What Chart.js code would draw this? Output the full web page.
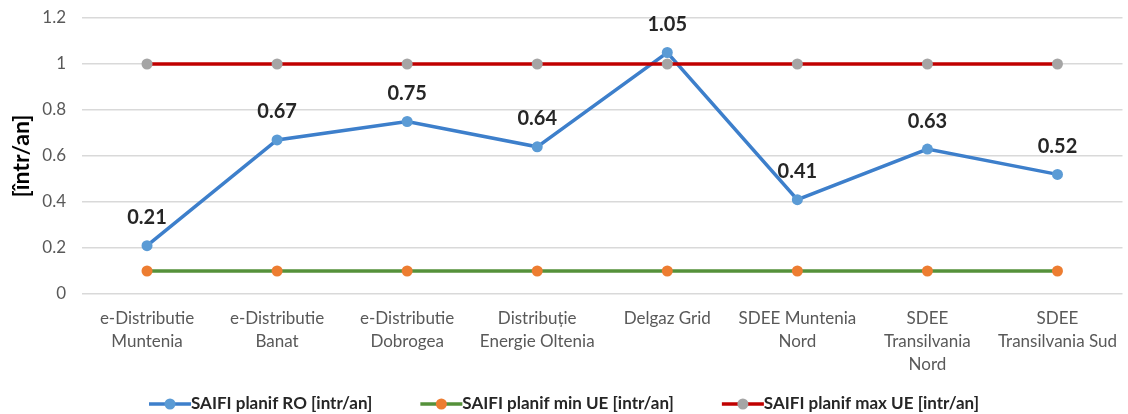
<!DOCTYPE html>
<html>
<head>
<meta charset="utf-8">
<script src="https://cdn.jsdelivr.net/npm/chart.js@4"></script>
<style>
  html, body { margin: 0; padding: 0; background: #fff; }
  #wrap { width: 1128px; height: 414px; }
</style>
</head>
<body>
<div id="wrap"><canvas id="myChart" width="1128" height="414"></canvas></div>
<script>
// data
const categories = [
  ['e-Distributie', 'Muntenia'],
  ['e-Distributie', 'Banat'],
  ['e-Distributie', 'Dobrogea'],
  ['Distribuție', 'Energie Oltenia'],
  'Delgaz Grid',
  ['SDEE Muntenia', 'Nord'],
  ['SDEE', 'Transilvania', 'Nord'],
  ['SDEE', 'Transilvania Sud']
];
const saifiRO = [0.21, 0.67, 0.75, 0.64, 1.05, 0.41, 0.63, 0.52];
const saifiMinUE = [0.1, 0.1, 0.1, 0.1, 0.1, 0.1, 0.1, 0.1];
const saifiMaxUE = [1, 1, 1, 1, 1, 1, 1, 1];
const seriesNames = ['SAIFI planif RO [intr/an]', 'SAIFI planif min UE [intr/an]', 'SAIFI planif max UE [intr/an]'];
const yTicks = [0, 0.2, 0.4, 0.6, 0.8, 1, 1.2];

const FONT = 'Lato, "Open Sans", sans-serif';

// value labels above the blue points
const valueLabels = {
  id: 'valueLabels',
  afterDatasetsDraw(chart) {
    const ctx = chart.ctx;
    const meta = chart.getDatasetMeta(0);
    ctx.save();
    ctx.font = 'bold 20px ' + FONT;
    ctx.fillStyle = '#262626';
    ctx.textAlign = 'center';
    ctx.textBaseline = 'middle';
    meta.data.forEach(function (pt, i) {
      ctx.fillText(saifiRO[i].toFixed(2), pt.x, pt.y - 28);
    });
    ctx.restore();
  }
};

// legend like excel: line with a dot, then the name
const lineLegend = {
  id: 'lineLegend',
  afterDraw(chart) {
    const ctx = chart.ctx;
    const sets = chart.data.datasets;
    const markW = 42, gap = 48, y = 404;
    ctx.save();
    ctx.font = 'bold 17px ' + FONT;
    ctx.textBaseline = 'middle';
    ctx.textAlign = 'left';
    var widths = sets.map(function (ds) { return markW + ctx.measureText(ds.label).width; });
    var total = widths.reduce(function (a, b) { return a + b; }, 0) + gap * (sets.length - 1);
    var x = (chart.width - total) / 2;
    sets.forEach(function (ds, i) {
      ctx.strokeStyle = ds.borderColor;
      ctx.lineWidth = 3.5;
      ctx.beginPath(); ctx.moveTo(x, y); ctx.lineTo(x + markW, y); ctx.stroke();
      ctx.fillStyle = ds.pointBackgroundColor;
      ctx.beginPath(); ctx.arc(x + markW / 2, y, 5.5, 0, Math.PI * 2); ctx.fill();
      ctx.fillStyle = '#262626';
      ctx.fillText(ds.label, x + markW, y);
      x += widths[i] + gap;
    });
    ctx.restore();
  }
};

const ctx = document.getElementById('myChart').getContext('2d');
const myChart = new Chart(ctx, {
  type: 'line',
  data: {
    labels: categories,
    datasets: [{
      label: seriesNames[0],
      data: saifiRO,
      borderColor: '#3d7fcb',
      pointBackgroundColor: '#5b9bd5',
      pointBorderWidth: 0,
      pointRadius: 5.5,
      borderWidth: 3.5,
      order: 3
    }, {
      label: seriesNames[1],
      data: saifiMinUE,
      borderColor: '#55913a',
      pointBackgroundColor: '#ed7d31',
      pointBorderWidth: 0,
      pointRadius: 5.5,
      borderWidth: 3.5,
      order: 2
    }, {
      label: seriesNames[2],
      data: saifiMaxUE,
      borderColor: '#c00000',
      pointBackgroundColor: '#a5a5a5',
      pointBorderWidth: 0,
      pointRadius: 5.5,
      borderWidth: 3.5,
      order: 1
    }]
  },
  options: {
    responsive: false,
    animation: false,
    layout: { padding: { top: 18, right: 0, left: 8, bottom: 30 } },
    plugins: {
      tooltip: { enabled: false },
      legend: { display: false }
    },
    scales: {
      x: {
        offset: true,
        grid: { display: false },
        border: { display: false },
        afterFit: function (scale) { scale.height = 90; },
        ticks: {
          color: '#595959',
          padding: 5,
          maxRotation: 0,
          autoSkip: false,
          font: { family: FONT, size: 17, lineHeight: 1.35 }
        }
      },
      y: {
        min: 0,
        max: 1.2,
        afterBuildTicks: function (scale) {
          scale.ticks = yTicks.map(function (v) { return { value: v }; });
        },
        afterFit: function (scale) {
          scale.width = 74;
          scale.paddingTop = 0;
          scale.paddingBottom = 0;
        },
        grid: { color: '#d9d9d9', lineWidth: 1.5, drawTicks: false },
        border: { display: false },
        ticks: {
          color: '#595959',
          padding: 16,
          font: { family: FONT, size: 17 },
          callback: function (v) { return String(Math.round(v * 10) / 10); }
        },
        title: {
          display: true,
          text: '[într/an]',
          color: '#000',
          padding: { top: 0, bottom: 4 },
          font: { family: FONT, size: 23, weight: 'bold' }
        }
      }
    }
  },
  plugins: [valueLabels, lineLegend]
});
</script>
</body>
</html>
